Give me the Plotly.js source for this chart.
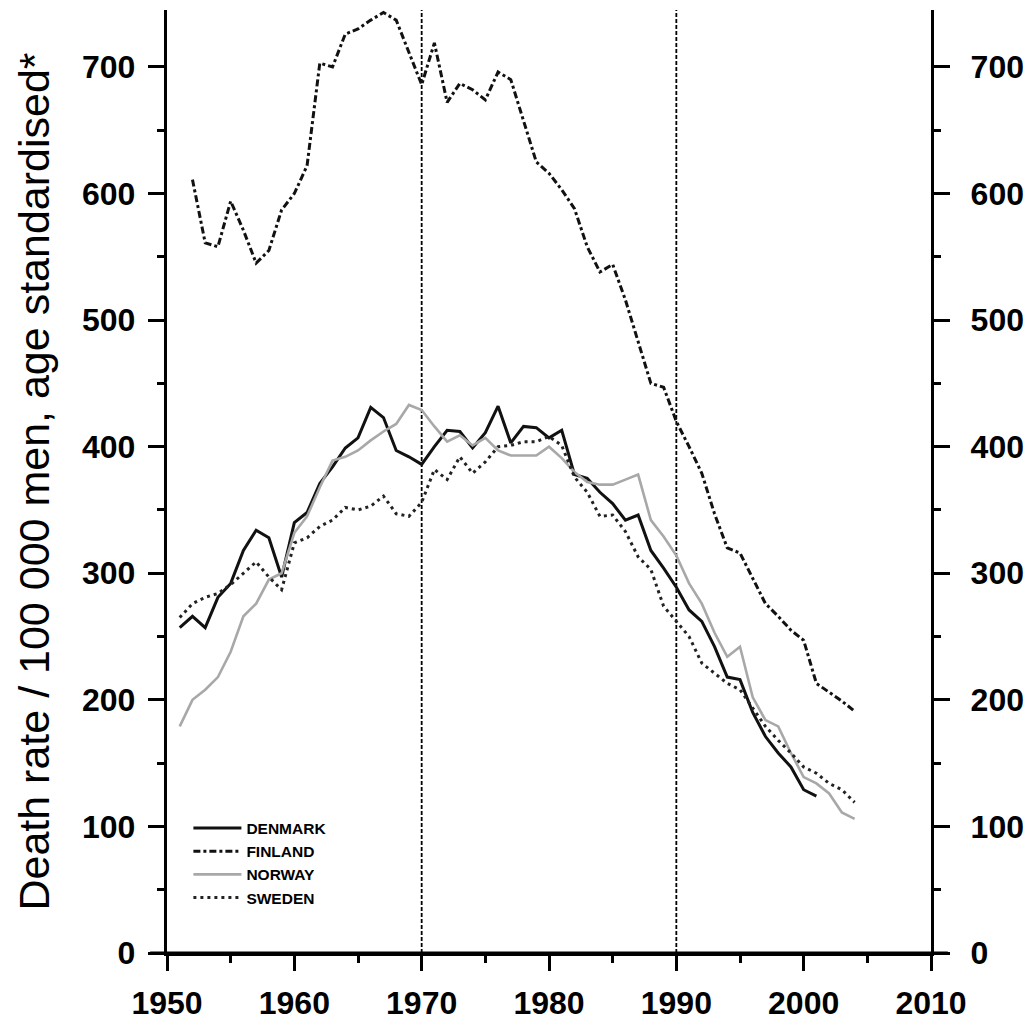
<!DOCTYPE html>
<html>
<head>
<meta charset="utf-8">
<script src="https://cdn.plot.ly/plotly-3.0.1.min.js"></script>
<style>html,body{margin:0;padding:0;background:#fff;}#chart{width:1034px;height:1020px;}</style>
</head>
<body>
<div id="chart"></div>
<script>
const yearsDenmark = [1951,1952,1953,1954,1955,1956,1957,1958,1959,1960,1961,1962,1963,1964,1965,1966,1967,1968,1969,1970,1971,1972,1973,1974,1975,1976,1977,1978,1979,1980,1981,1982,1983,1984,1985,1986,1987,1988,1989,1990,1991,1992,1993,1994,1995,1996,1997,1998,1999,2000,2001];
const denmark = [257,266,257,281,292,318,334,328,297,340,348,371,384,399,407,431,423,397,392,386,400,413,412,399,411,432,403,416,415,407,413,378,375,364,355,342,346,318,304,289,271,262,242,218,216,190,171,158,147,129,124];

const yearsFinland = [1952,1953,1954,1955,1956,1957,1958,1959,1960,1961,1962,1963,1964,1965,1966,1967,1968,1969,1970,1971,1972,1973,1974,1975,1976,1977,1978,1979,1980,1981,1982,1983,1984,1985,1986,1987,1988,1989,1990,1991,1992,1993,1994,1995,1996,1997,1998,1999,2000,2001,2002,2003,2004];
const finland = [611,561,558,594,571,545,555,587,600,622,703,700,726,730,737,743,737,712,686,719,672,687,682,674,696,690,658,625,616,603,588,558,538,544,516,484,450,447,420,400,379,347,320,316,296,276,266,255,247,213,206,199,191];

const yearsNorway = [1951,1952,1953,1954,1955,1956,1957,1958,1959,1960,1961,1962,1963,1964,1965,1966,1967,1968,1969,1970,1971,1972,1973,1974,1975,1976,1977,1978,1979,1980,1981,1982,1983,1984,1985,1986,1987,1988,1989,1990,1991,1992,1993,1994,1995,1996,1997,1998,1999,2000,2001,2002,2003,2004];
const norway = [179,200,208,218,238,266,276,295,300,332,345,368,389,392,397,405,412,418,433,429,416,404,409,401,407,397,393,393,393,400,391,380,372,370,370,374,378,342,329,314,292,276,253,234,242,202,184,179,158,139,134,126,111,106];

const yearsSweden = [1951,1952,1953,1954,1955,1956,1957,1958,1959,1960,1961,1962,1963,1964,1965,1966,1967,1968,1969,1970,1971,1972,1973,1974,1975,1976,1977,1978,1979,1980,1981,1982,1983,1984,1985,1986,1987,1988,1989,1990,1991,1992,1993,1994,1995,1996,1997,1998,1999,2000,2001,2002,2003,2004];
const sweden = [265,276,281,284,291,300,309,297,287,324,328,337,342,352,350,353,361,347,345,356,382,374,392,379,388,400,401,404,404,408,401,376,364,345,346,333,313,303,274,262,250,229,221,213,208,194,179,168,158,147,142,134,129,119];

const markerYears = [1970, 1990];
const xTickVals = [1950,1960,1970,1980,1990,2000,2010];
const yTickVals = [0,100,200,300,400,500,600,700];
const yTitle = "Death rate / 100 000 men, age standardised*";

const traces = [
  {x: yearsDenmark, y: denmark, name: "DENMARK", mode: "lines", legendgroup: "dk",
   line: {color: "#111", width: 3}},
  {x: yearsFinland, y: finland, name: "FINLAND", mode: "lines", legendgroup: "fi",
   line: {color: "#111", width: 3, dash: "7px,3px,3px,3px"}},
  {x: yearsNorway, y: norway, name: "NORWAY", mode: "lines", legendgroup: "no",
   line: {color: "#a8a8a8", width: 2.6}},
  {x: yearsSweden, y: sweden, name: "SWEDEN", mode: "lines", legendgroup: "se",
   line: {color: "#222", width: 3, dash: "3px,4px"}},
  {x: yearsDenmark, y: denmark, yaxis: "y2", mode: "lines", showlegend: false,
   hoverinfo: "skip", line: {width: 0, color: "rgba(0,0,0,0)"}}
];

const shapes = markerYears.map(yr => ({
  type: "line", xref: "x", yref: "paper", x0: yr, x1: yr, y0: 0, y1: 1,
  line: {color: "#000", width: 1.8, dash: "4px,2px"}, layer: "below"
}));
shapes.push({type: "line", xref: "paper", yref: "y", x0: -0.022, x1: 1.022, y0: 0, y1: 0,
  line: {color: "#000", width: 3.2}, layer: "above"});

const tickFont = {family: "Liberation Sans, Arial, sans-serif", size: 32, color: "#000", weight: "bold"};
const minorY = {dtick: 50, tick0: 0, ticks: "outside", ticklen: 7, tickwidth: 3, tickcolor: "#000", showgrid: false};

const layout = {
  width: 1034, height: 1020,
  margin: {l: 167, r: 103, t: 10, b: 67},
  paper_bgcolor: "#fff", plot_bgcolor: "#fff",
  showlegend: true,
  legend: {x: 0.028, y: 0.15, xanchor: "left", yanchor: "top",
    bgcolor: "rgba(0,0,0,0)", traceorder: "grouped", tracegroupgap: 0, itemwidth: 48,
    font: {family: "Liberation Sans, Arial, sans-serif", size: 15.5, color: "#000", weight: "bold"}},
  xaxis: {
    range: [1950, 2010], tickvals: xTickVals, ticks: "outside", ticklen: 15, tickwidth: 3,
    tickcolor: "#000", showline: true, linewidth: 3.2, linecolor: "#000",
    showgrid: false, zeroline: false, tickfont: tickFont, ticklabelstandoff: 4,
    minor: {dtick: 5, tick0: 1950, ticks: "outside", ticklen: 7, tickwidth: 3, tickcolor: "#000", showgrid: false}
  },
  yaxis: {
    range: [0, 745], tickvals: yTickVals, ticks: "outside", ticklen: 16, tickwidth: 3,
    tickcolor: "#000", showline: true, linewidth: 3.2, linecolor: "#000",
    showgrid: false, zeroline: false, tickfont: tickFont, ticklabelstandoff: 6,
    minor: minorY,
    title: {text: yTitle, standoff: 20,
      font: {family: "Liberation Sans, Arial, sans-serif", size: 43, color: "#000"}}
  },
  yaxis2: {
    overlaying: "y", side: "right", range: [0, 745], tickvals: yTickVals,
    ticks: "outside", ticklen: 16, tickwidth: 3, tickcolor: "#000",
    showline: true, linewidth: 3.2, linecolor: "#000",
    showgrid: false, zeroline: false, tickfont: tickFont, ticklabelstandoff: 14,
    minor: minorY
  },
  shapes: shapes
};

Plotly.newPlot("chart", traces, layout, {displayModeBar: false, staticPlot: true});
</script>
</body>
</html>
